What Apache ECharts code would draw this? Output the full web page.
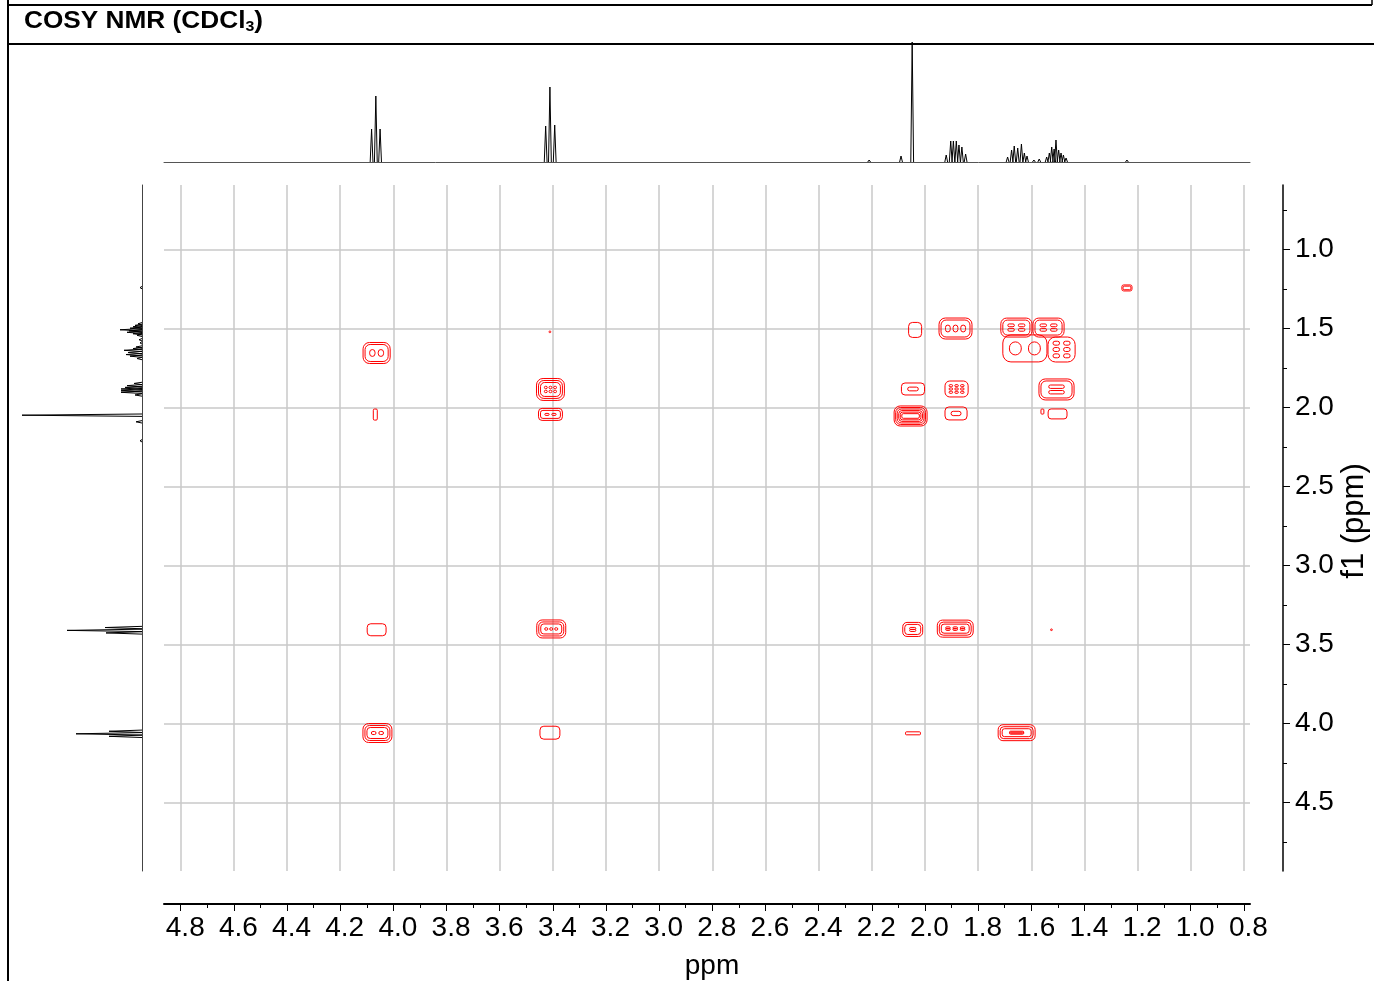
<!DOCTYPE html>
<html>
<head>
<meta charset="utf-8">
<title>COSY NMR (CDCl3)</title>
<script src="https://cdn.jsdelivr.net/npm/echarts@6/dist/echarts.min.js"></script>
<style>
  html, body { margin: 0; padding: 0; background: #fff; }
  #chart { width: 1374px; height: 981px; }
</style>
</head>
<body>
<div id="chart"></div>
<script>
// axis windows (ppm)
var f2Range = [0.777, 4.863];
var f1Range = [0.59, 4.935];
var f2Ticks = [0.8, 1.0, 1.2, 1.4, 1.6, 1.8, 2.0, 2.2, 2.4, 2.6, 2.8, 3.0, 3.2, 3.4, 3.6, 3.8, 4.0, 4.2, 4.4, 4.6, 4.8];
var f1Ticks = [1.0, 1.5, 2.0, 2.5, 3.0, 3.5, 4.0, 4.5];

// 1H projection, [ppm, intensity]
var protonPeaks = [
  [4.082, 33], [4.066, 66], [4.050, 33],
  [3.427, 36], [3.411, 75], [3.393, 37],
  [2.210, 2], [2.090, 6], [2.048, 120],
  [1.920, 7], [1.903, 21], [1.893, 21], [1.882, 21], [1.872, 17], [1.861, 15], [1.847, 8],
  [1.689, 5], [1.674, 12], [1.664, 16], [1.651, 14], [1.637, 18], [1.626, 9], [1.616, 6],
  [1.590, 2], [1.570, 3],
  [1.542, 5], [1.532, 9], [1.523, 15], [1.514, 13], [1.507, 22], [1.497, 12], [1.488, 9], [1.479, 7], [1.469, 4],
  [1.240, 2]
];

// cross peaks: [f2, f1, width f2, width f1, contour levels, fine spots across, fine spots down]
var crossPeaks = [
  [2.037, 1.508, 0.049, 0.095, 1, 0, 0],
  [1.885, 1.499, 0.124, 0.133, 2, 3, 1],
  [1.656, 1.493, 0.117, 0.120, 2, 2, 2],
  [1.535, 1.493, 0.117, 0.120, 2, 2, 2],
  [1.624, 1.625, 0.166, 0.171, 1, 2, 1],
  [1.486, 1.632, 0.102, 0.158, 1, 2, 3],
  [2.045, 1.882, 0.087, 0.076, 1, 1, 1],
  [1.881, 1.882, 0.087, 0.101, 1, 3, 3],
  [1.505, 1.885, 0.132, 0.133, 2, 1, 2],
  [2.054, 2.053, 0.124, 0.127, 6, 0, 0],
  [1.883, 2.037, 0.083, 0.082, 1, 1, 1],
  [1.558, 2.025, 0.011, 0.032, 1, 0, 0],
  [1.501, 2.040, 0.071, 0.063, 1, 0, 0],
  [4.063, 1.654, 0.102, 0.133, 2, 2, 1],
  [3.411, 1.520, 0.006, 0.010, 1, 0, 0],
  [3.409, 1.885, 0.105, 0.139, 3, 3, 2],
  [3.409, 2.043, 0.090, 0.076, 2, 2, 1],
  [4.068, 2.044, 0.015, 0.070, 1, 0, 0],
  [4.063, 3.407, 0.071, 0.076, 1, 0, 0],
  [3.406, 3.402, 0.109, 0.114, 3, 3, 1],
  [4.060, 4.061, 0.109, 0.120, 3, 2, 1],
  [3.411, 4.059, 0.075, 0.082, 1, 0, 0],
  [2.046, 3.405, 0.075, 0.089, 2, 1, 2],
  [1.886, 3.400, 0.135, 0.108, 3, 3, 2],
  [1.524, 3.407, 0.006, 0.010, 1, 0, 0],
  [2.045, 4.063, 0.056, 0.019, 1, 0, 0],
  [1.655, 4.059, 0.139, 0.101, 3, 1, 2],
  [1.240, 1.242, 0.038, 0.038, 2, 0, 0]
];

var FONT = "'Liberation Sans', Arial, sans-serif";
var RED = '#ff0000';
var GRID_GREY = '#c8c8c8';

var chart = echarts.init(document.getElementById('chart'));

function oneDecimal(v) { return Number(v).toFixed(1); }

// spike for the top projection
function topPeak(params, api) {
  var tip = api.coord([api.value(0), api.value(1)]);
  var base = api.coord([api.value(0), 0]);
  return {
    type: 'polyline',
    shape: { points: [[tip[0] - 1.4, base[1]], tip, [tip[0] + 1.4, base[1]]] },
    style: { stroke: '#000', fill: null, lineWidth: 1 }
  };
}

// spike for the left projection (data is [intensity, ppm])
function leftPeak(params, api) {
  var tip = api.coord([api.value(0), api.value(1)]);
  var base = api.coord([0, api.value(1)]);
  return {
    type: 'polyline',
    shape: { points: [[base[0], tip[1] - 1.2], tip, [base[0], tip[1] + 1.2]] },
    style: { stroke: '#000', fill: null, lineWidth: 1 }
  };
}

// nested contour rings + fine structure
function contour(params, api) {
  var x = api.value(0), y = api.value(1);
  var c = api.coord([x, y]);
  var a = api.coord([x - api.value(2) / 2, y - api.value(3) / 2]);
  var b = api.coord([x + api.value(2) / 2, y + api.value(3) / 2]);
  var w = Math.abs(b[0] - a[0]), h = Math.abs(b[1] - a[1]);
  var levels = api.value(4), nx = api.value(5), ny = api.value(6);
  var step = Math.min(2, Math.min(w, h) / (2 * levels + 1));
  var children = [];
  for (var i = 0; i < levels; i++) {
    var rw = w - 2 * i * step, rh = h - 2 * i * step;
    children.push({
      type: 'rect',
      shape: { x: c[0] - rw / 2, y: c[1] - rh / 2, width: rw, height: rh, r: Math.min(rw, rh) * 0.3 },
      style: { fill: null, stroke: RED, lineWidth: 1 }
    });
  }
  if (nx > 0 && ny > 0) {
    var iw = w - 2 * levels * step - 2, ih = h - 2 * levels * step - 2;
    var cw = iw / nx, ch = ih / ny;
    for (var j = 0; j < nx; j++) {
      for (var k = 0; k < ny; k++) {
        var sw = Math.max(cw * 0.62, 2), sh = Math.max(ch * 0.62, 2);
        var sx = c[0] - iw / 2 + cw * (j + 0.5), sy = c[1] - ih / 2 + ch * (k + 0.5);
        children.push({
          type: 'rect',
          shape: { x: sx - sw / 2, y: sy - sh / 2, width: sw, height: sh, r: Math.min(sw, sh) / 2 },
          style: { fill: null, stroke: RED, lineWidth: 1 }
        });
      }
    }
  }
  return { type: 'group', children: children };
}

var hidden = { show: false };

var option = {
  animation: false,
  backgroundColor: '#fff',
  textStyle: { fontFamily: FONT },
  graphic: [
    { type: 'line', shape: { x1: 8, y1: 0, x2: 8, y2: 981 }, style: { stroke: '#000', lineWidth: 2 } },
    { type: 'line', shape: { x1: 8, y1: 5, x2: 1372, y2: 5 }, style: { stroke: '#000', lineWidth: 2 } },
    { type: 'line', shape: { x1: 1372, y1: 0, x2: 1372, y2: 5 }, style: { stroke: '#000', lineWidth: 1.5 } },
    { type: 'line', shape: { x1: 8, y1: 44, x2: 1374, y2: 44 }, style: { stroke: '#000', lineWidth: 2 }, z: 100 },
    {
      type: 'text', x: 24, y: 22, scaleX: 1.14,
      style: {
        text: '{b|COSY NMR (CDCl}{s|3}{b|)}',
        verticalAlign: 'middle',
        rich: {
          b: { fontFamily: FONT, fontSize: 23, fontWeight: 'bold', fill: '#000', lineHeight: 25 },
          s: { fontFamily: FONT, fontSize: 14, fontWeight: 'bold', fill: '#000', lineHeight: 25, verticalAlign: 'bottom' }
        }
      }
    }
  ],
  grid: [
    { left: 164, top: 185, width: 1086, height: 686, outerBoundsMode: 'none' },
    { left: 164, top: 42, width: 1086, height: 120, outerBoundsMode: 'none' },
    { left: 22, top: 185, width: 120, height: 686, outerBoundsMode: 'none' }
  ],
  xAxis: [
    {
      type: 'value', gridIndex: 0, inverse: true, position: 'bottom', offset: 33,
      min: f2Range[0], max: f2Range[1], splitNumber: 20, minInterval: 0.2, maxInterval: 0.2,
      name: 'ppm', nameLocation: 'middle', nameGap: 48, nameMoveOverlap: false,
      nameTextStyle: { fontFamily: FONT, fontSize: 28, color: '#000', padding: [0, 0, 0, 10] },
      axisLine: { show: true, onZero: false, lineStyle: { color: '#000', width: 2 } },
      axisTick: { show: true, inside: false, length: 7, customValues: f2Ticks, lineStyle: { color: '#000', width: 1 } },
      minorTick: { show: true, splitNumber: 2, length: 4, lineStyle: { color: '#000', width: 1 } },
      axisLabel: {
        show: true, margin: 10, customValues: f2Ticks,
        fontFamily: FONT, fontSize: 28, color: '#000', formatter: oneDecimal, padding: [0, 0, 0, 9]
      },
      splitLine: { show: true, lineStyle: { color: GRID_GREY, width: 1.5 } },
      minorSplitLine: { show: false }
    },
    {
      type: 'value', gridIndex: 1, inverse: true, min: f2Range[0], max: f2Range[1],
      axisLine: { show: true, onZero: false, lineStyle: { color: '#555', width: 1 } },
      axisTick: hidden, axisLabel: hidden, splitLine: hidden
    },
    {
      type: 'value', gridIndex: 2, inverse: true, min: 0, max: 120,
      axisLine: hidden, axisTick: hidden, axisLabel: hidden, splitLine: hidden
    }
  ],
  yAxis: [
    {
      type: 'value', gridIndex: 0, inverse: true, position: 'right', offset: 33,
      min: f1Range[0], max: f1Range[1], splitNumber: 9, minInterval: 0.5, maxInterval: 0.5,
      name: 'f1 (ppm)', nameLocation: 'middle', nameRotate: 90, nameGap: 56, nameMoveOverlap: false,
      nameTextStyle: { fontFamily: FONT, fontSize: 31, color: '#000', padding: [0, 0, 0, 14] },
      axisLine: { show: true, onZero: false, lineStyle: { color: '#000', width: 1.5 } },
      axisTick: { show: true, inside: false, length: 7, customValues: f1Ticks, lineStyle: { color: '#000', width: 1 } },
      minorTick: { show: true, splitNumber: 2, length: 4, lineStyle: { color: '#000', width: 1 } },
      axisLabel: {
        show: true, margin: 12, customValues: f1Ticks,
        fontFamily: FONT, fontSize: 28, color: '#000', formatter: oneDecimal
      },
      splitLine: { show: true, lineStyle: { color: GRID_GREY, width: 1.5 } },
      minorSplitLine: { show: false }
    },
    {
      type: 'value', gridIndex: 1, min: 0, max: 120,
      axisLine: hidden, axisTick: hidden, axisLabel: hidden, splitLine: hidden
    },
    {
      type: 'value', gridIndex: 2, inverse: true, position: 'right', min: f1Range[0], max: f1Range[1],
      axisLine: { show: true, onZero: false, lineStyle: { color: '#444', width: 1 } },
      axisTick: hidden, axisLabel: hidden, splitLine: hidden
    }
  ],
  series: [
    {
      type: 'custom', name: 'contours', xAxisIndex: 0, yAxisIndex: 0, clip: true, silent: true,
      data: crossPeaks, renderItem: contour, z: 5
    },
    {
      type: 'custom', name: 'top 1H', xAxisIndex: 1, yAxisIndex: 1, clip: false, silent: true,
      data: protonPeaks, renderItem: topPeak
    },
    {
      type: 'custom', name: 'left 1H', xAxisIndex: 2, yAxisIndex: 2, clip: false, silent: true,
      data: protonPeaks.map(function (p) { return [p[1], p[0]]; }), renderItem: leftPeak
    }
  ]
};

chart.setOption(option);
</script>
</body>
</html>
